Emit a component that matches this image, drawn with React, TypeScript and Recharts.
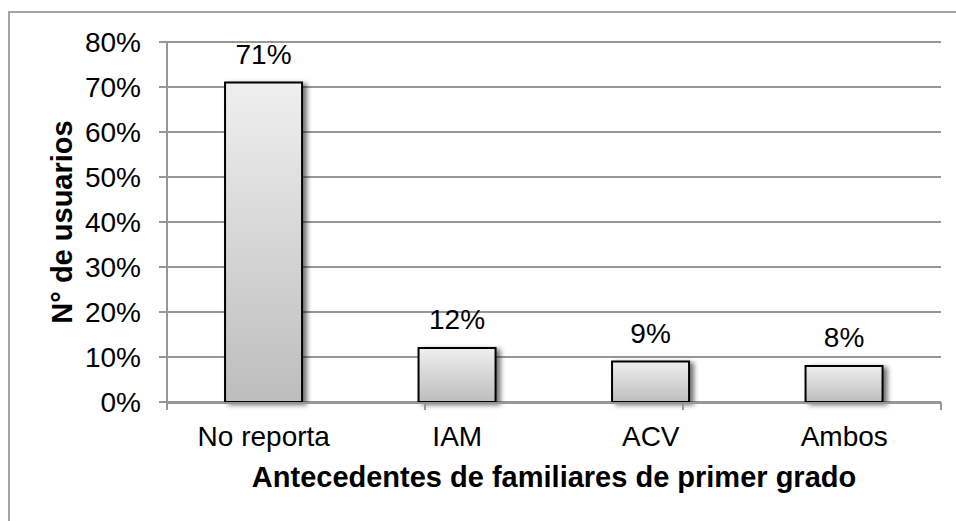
import React from 'react';
import { BarChart, Bar, XAxis, YAxis, CartesianGrid, LabelList, Label } from 'recharts';

const categories = ['No reporta', 'IAM', 'ACV', 'Ambos'];
const values = [71, 12, 9, 8];
const yTicks = [0, 10, 20, 30, 40, 50, 60, 70, 80];
const boundaryTicks = [0, 1, 2, 3, 4];
const xTitle = 'Antecedentes de familiares de primer grado';
const yTitle = 'N° de usuarios';

const data = categories.map((c, i) => ({ name: c, value: values[i] }));

const FONT = '"Liberation Sans", Arial, Helvetica, sans-serif';
const GRID = '#979797';

const BarShape = (p: any) => (
  <rect
    x={p.x}
    y={p.y}
    width={p.width}
    height={p.height}
    fill="url(#barGrad)"
    stroke="#000"
    strokeWidth={2}
    filter="url(#barShadow)"
  />
);

const EmptyTick = () => <g />;

export default function App() {
  return (
    <div
      style={{
        position: 'absolute',
        left: 0,
        top: 0,
        width: 956,
        height: 521,
        overflow: 'hidden',
        background: '#fff',
        fontFamily: FONT,
      }}
    >
      <div
        style={{
          position: 'absolute',
          left: 8,
          top: 11,
          width: 1200,
          height: 1200,
          border: '2px solid #a3a3a3',
          boxSizing: 'border-box',
        }}
      />
      <svg width={0} height={0} style={{ position: 'absolute' }}>
        <defs>
          <linearGradient id="barGrad" x1="0" y1="0" x2="0" y2="1">
            <stop offset="0%" stopColor="#efefef" />
            <stop offset="100%" stopColor="#bdbdbd" />
          </linearGradient>
          <filter id="barShadow" x="-20%" y="-20%" width="150%" height="150%">
            <feDropShadow dx="4" dy="2" stdDeviation="2.5" floodColor="#000" floodOpacity="0.55" />
          </filter>
        </defs>
      </svg>
      <div style={{ position: 'absolute', left: 0, top: 0 }}>
        <BarChart
          width={956}
          height={521}
          data={data}
          margin={{ top: 42, right: 15, bottom: 34, left: 0 }}
          barCategoryGap="30%"
          style={{ fontFamily: FONT }}
        >
          <XAxis
            xAxisId="bounds"
            type="number"
            domain={[0, 4]}
            ticks={boundaryTicks}
            tick={EmptyTick}
            tickSize={8}
            tickLine={{ stroke: GRID, strokeWidth: 2 }}
            axisLine={false}
            height={1}
            allowDataOverflow
            interval={0}
          />
          <CartesianGrid vertical={false} stroke={GRID} strokeWidth={2} xAxisId="cat" />
          <XAxis
            xAxisId="cat"
            dataKey="name"
            interval={0}
            height={84}
            tickLine={false}
            tickSize={8}
            tickMargin={15}
            axisLine={{ stroke: GRID, strokeWidth: 2 }}
            tick={{ fill: '#000', fontSize: 28, fontFamily: FONT }}
          >
            <Label
              value={xTitle}
              position="insideBottom"
              offset={0}
              style={{ fontWeight: 'bold', fontSize: 29, fill: '#000', fontFamily: FONT }}
            />
          </XAxis>
          <YAxis
            width={167}
            domain={[0, 80]}
            ticks={yTicks}
            tickFormatter={(v: number) => `${v}%`}
            tickSize={8}
            tickMargin={18}
            tickLine={{ stroke: GRID, strokeWidth: 2 }}
            axisLine={{ stroke: GRID, strokeWidth: 2 }}
            tick={{ fill: '#000', fontSize: 28, fontFamily: FONT }}
            interval={0}
          >
            <Label
              value={yTitle}
              angle={-90}
              position="insideLeft"
              offset={62}
              textAnchor="middle"
              style={{ fontWeight: 'bold', fontSize: 29, fill: '#000', fontFamily: FONT, textAnchor: 'middle' }}
            />
          </YAxis>
          <Bar
            xAxisId="cat"
            dataKey="value"
            shape={BarShape}
            isAnimationActive={false}
          >
            <LabelList
              dataKey="value"
              position="top"
              offset={19}
              formatter={(v: any) => `${v}%`}
              style={{ fill: '#000', fontSize: 28, fontFamily: FONT }}
            />
          </Bar>
        </BarChart>
      </div>
    </div>
  );
}
